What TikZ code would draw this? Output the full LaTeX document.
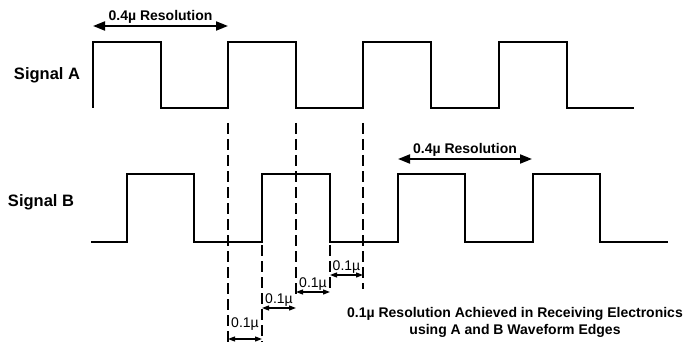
\documentclass[tikz,border=0pt]{standalone}
\usepackage{fontspec}
\setmainfont{Liberation Sans}
\usetikzlibrary{arrows.meta}

\begin{document}
\begin{tikzpicture}[x = 1pt, y = -1pt,
  wave/.style = {line width = 2.6pt, line join = miter},
  edge/.style = {line width = 1.2pt, dash pattern = on 11pt off 5pt},
  wide/.style = {line width = 1.8pt, {Triangle[length = 12pt, width = 9pt]}-{Triangle[length = 12pt, width = 9pt]}},
  narrow/.style = {line width = 1.2pt, {Triangle[length = 7pt, width = 5pt]}-{Triangle[length = 7pt, width = 5pt]}},
  siglabel/.style = {font = \fontsize{16.5}{19}\selectfont\bfseries, anchor = base},
  reslabel/.style = {font = \fontsize{14}{17}\selectfont\bfseries, above, inner sep = 2pt},
  steplabel/.style = {font = \fontsize{14}{17}\selectfont, above, inner sep = 1pt}]
\useasboundingbox (0, 0) rectangle (688, 342);
\node[siglabel] (siga) at (47, 80) {Signal A};
\node[siglabel] (sigb) at (41, 206) {Signal B};
\draw[wave] (93, 108) -- (93, 42) -- (161, 42) -- (161, 108) -- (228, 108) -- (228, 42) -- (296, 42) -- (296, 108)
-- (363, 108) -- (363, 42) -- (431, 42) -- (431, 108) -- (499, 108) -- (499, 42) -- (567, 42) -- (567, 108) -- (634, 108);
\draw[wave] (91, 242) -- (127, 242) -- (127, 174) -- (194, 174) -- (194, 242) -- (262, 242) -- (262, 174) -- (330, 174)
-- (330, 242) -- (398, 242) -- (398, 174) -- (465, 174) -- (465, 242) -- (533, 242) -- (533, 174) -- (600, 174) -- (600, 242) -- (668, 242);
\coordinate (e1t) at (228, 123); \coordinate (e1b) at (228, 342);
\coordinate (e2t) at (262, 245); \coordinate (e2b) at (262, 342);
\coordinate (e3t) at (296, 123); \coordinate (e3b) at (296, 295);
\coordinate (e4t) at (330, 245); \coordinate (e4b) at (330, 293);
\coordinate (e5t) at (363, 123); \coordinate (e5b) at (363, 289);
\draw[edge] (e1t) -- (e1b) (e2t) -- (e2b) (e3t) -- (e3b) (e4t) -- (e4b) (e5t) -- (e5b);
\coordinate (ra1) at (93, 26); \coordinate (ra2) at (228, 26);
\coordinate (rb1) at (398, 159); \coordinate (rb2) at (532, 159);
\draw[wide] (ra1) -- node[reslabel] (resa) {0.4µ Resolution} (ra2);
\draw[wide] (rb1) -- node[reslabel] (resb) {0.4µ Resolution} (rb2);
\coordinate (g1l) at (228, 339); \coordinate (g1r) at (262, 339);
\coordinate (g2l) at (262, 308); \coordinate (g2r) at (296, 308);
\coordinate (g3l) at (296, 292); \coordinate (g3r) at (330, 292);
\coordinate (g4l) at (330, 275); \coordinate (g4r) at (363, 275);
\draw[narrow] (g1l) -- node[steplabel, yshift = 7pt] (st1) {0.1µ} (g1r);
\draw[narrow] (g2l) -- node[steplabel] (st2) {0.1µ} (g2r);
\draw[narrow] (g3l) -- node[steplabel] (st3) {0.1µ} (g3r);
\draw[narrow] (g4l) -- node[steplabel] (st4) {0.1µ} (g4r);
\node[font = \fontsize{14}{17}\selectfont\bfseries, align = center] (note) at (515, 322)
{0.1µ Resolution Achieved in Receiving Electronics\\using A and B Waveform Edges};
\end{tikzpicture}
\end{document}
